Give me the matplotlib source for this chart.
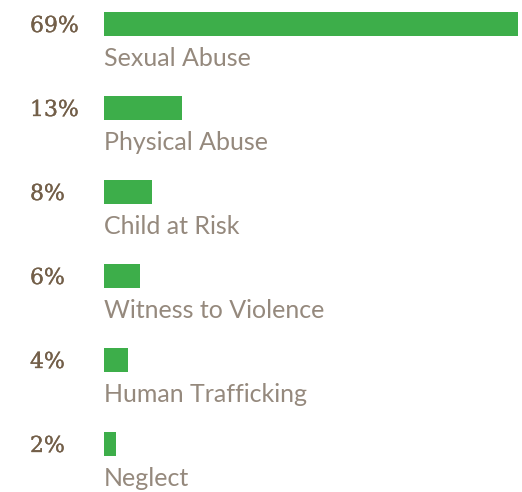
import matplotlib.pyplot as plt
import matplotlib.patheffects as pe

categories = ['Sexual Abuse', 'Physical Abuse', 'Child at Risk',
              'Witness to Violence', 'Human Trafficking', 'Neglect']
values = [69, 13, 8, 6, 4, 2]

bar_color = '#3DAE4A'
pct_color = '#735F49'
label_color = '#95897D'

W, H = 522, 492
fig = plt.figure(figsize=(W / 100, H / 100), dpi=100)
fig.patch.set_facecolor('white')

# axes: x=0 at 104px, x=69 at 518px; rows 84px apart, first centre at 24px
ax = fig.add_axes([104 / W, 0, (518 - 104) / W, 1])
ax.set_xlim(0, 69)
ax.set_ylim((H - 24) / 84, -24 / 84)
ax.axis('off')

rows = list(range(len(categories)))
ax.barh(rows, values, height=24 / 84, left=0, color=bar_color)

for i, (cat, v) in enumerate(zip(categories, values)):
    ax.text(-74 / 6, i + 8 / 84, f'{v}%', fontsize=15.8, family='DejaVu Serif',
            color=pct_color, ha='left', va='baseline',
            path_effects=[pe.withStroke(linewidth=0.25, foreground=pct_color)])
    ax.text(0, i + 42 / 84, cat, fontsize=18, family=['Lato', 'DejaVu Sans'],
            fontweight='normal', color=label_color, ha='left', va='baseline')

fig.savefig('out.png', dpi=100)
